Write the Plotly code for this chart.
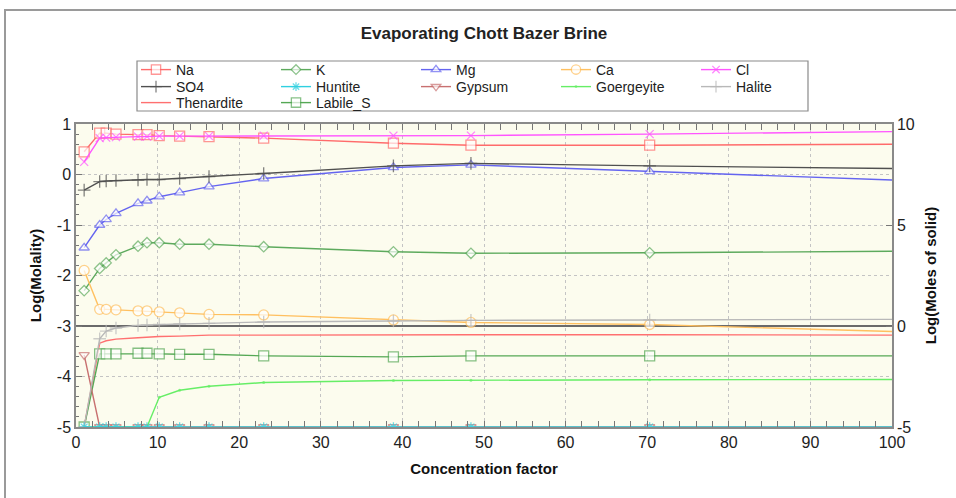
import plotly.graph_objects as go

# Concentration factor (x) and which points carry a marker
conc = [1, 2.9, 3.7, 4.9, 7.6, 8.7, 10.2, 12.7, 16.3, 23, 38.9, 48.4, 70.3, 100]
marked = [1, 1, 1, 1, 1, 1, 1, 1, 1, 1, 1, 1, 1, 0]

# Tick labels (plain hyphen minus as in the original)
left_ticks = [-5, -4, -3, -2, -1, 0, 1]
left_labels = ['-5', '-4', '-3', '-2', '-1', '0', '1']
right_ticks = [-5, 0, 5, 10]
right_labels = ['-5', '0', '5', '10']

# Log(Molality) - left axis
na = [0.45, 0.82, 0.82, 0.80, 0.79, 0.79, 0.77, 0.76, 0.75, 0.72, 0.62, 0.58, 0.58, 0.60]
cl = [0.25, 0.72, 0.73, 0.74, 0.75, 0.75, 0.76, 0.76, 0.76, 0.77, 0.77, 0.77, 0.80, 0.85]
so4 = [-0.31, -0.14, -0.13, -0.12, -0.11, -0.10, -0.10, -0.08, -0.04, 0.02, 0.17, 0.22, 0.17, 0.12]
mg = [-1.45, -1.00, -0.89, -0.77, -0.57, -0.52, -0.44, -0.36, -0.24, -0.08, 0.14, 0.19, 0.06, -0.11]
k = [-2.30, -1.86, -1.75, -1.59, -1.42, -1.35, -1.35, -1.38, -1.38, -1.43, -1.53, -1.56, -1.55, -1.52]
ca = [-1.90, -2.67, -2.67, -2.68, -2.70, -2.70, -2.72, -2.74, -2.77, -2.78, -2.88, -2.93, -2.97, -3.11]

# Log(Moles of solid) - right axis
huntite = [-5, -5, -5, -5, -5, -5, -5, -5, -5, -5, -5, -5, -5, -5]
gypsum = [-1.43, -5, -5, -5, -5, -5, -5, -5, -5, -5, -5, -5, -5, -5]
goergeyite = [-5, -5, -5, -5, -5, -5, -3.53, -3.18, -2.98, -2.80, -2.70, -2.68, -2.66, -2.65]
halite = [-5, -0.63, -0.25, -0.10, 0.03, 0.05, 0.08, 0.10, 0.13, 0.20, 0.25, 0.28, 0.30, 0.33]
thenardite = [-5, -0.85, -0.73, -0.65, -0.58, -0.55, -0.52, -0.50, -0.45, -0.45, -0.43, -0.43, -0.43, -0.45]
labile_s = [-5, -1.38, -1.38, -1.38, -1.35, -1.35, -1.38, -1.40, -1.40, -1.48, -1.53, -1.48, -1.48, -1.48]

fig = go.Figure()


def add(name, y, color, symbol, size, axis, legend, rank, width=1.4,
        fill='white', mlw=1.3, mode='lines+markers', marks=True):
    sizes = [size if (m and marks) else 0 for m in marked]
    fig.add_trace(go.Scatter(
        x=conc, y=y, name=name, mode=mode, yaxis=axis, legend=legend,
        legendrank=rank,
        line=dict(color=color, width=width),
        marker=dict(symbol=symbol, size=sizes, color=fill,
                    line=dict(color=color, width=mlw)),
    ))


# left axis species
add('Na', na, '#FF6B6B', 'square', 10, 'y', 'legend', 1)
add('K', k, '#5DAA5D', 'diamond', 8, 'y', 'legend', 2)
add('Mg', mg, '#6464F0', 'triangle-up', 9, 'y', 'legend', 3)
add('Ca', ca, '#FFC060', 'circle', 10, 'y', 'legend', 4)
add('Cl', cl, '#FF55FF', 'x-thin', 8, 'y', 'legend', 5)
add('SO4', so4, '#505050', 'cross-thin', 9, 'y', 'legend2', 1)

# right axis solids
add('Thenardite', thenardite, '#FF7070', 'circle', 0, 'y2', 'legend3', 1,
    mode='lines', marks=False)
add('Labile_S', labile_s, '#55A855', 'square', 10, 'y2', 'legend3', 2)
add('Gypsum', gypsum, '#C87070', 'triangle-down', 9, 'y2', 'legend2', 3)
add('Goergeyite', goergeyite, '#66EE66', 'circle', 3, 'y2', 'legend2', 4,
    fill='#66EE66', mlw=0)
add('Halite', halite, '#B8B8B8', 'cross-thin', 9, 'y2', 'legend2', 5)
add('Huntite', huntite, '#30D0E0', 'asterisk', 8, 'y2', 'legend2', 2)

# geometry helpers (paper coords)
L, R, T, B = 76, 892, 124, 427
W, H = 956, 498


def px(xp):
    return (xp - L) / (R - L)


def py(yp):
    return (B - yp) / (B - T)


legend_common = dict(orientation='h', xanchor='left', yanchor='middle',
                     bgcolor='rgba(0,0,0,0)', borderwidth=0,
                     font=dict(size=14, color='#222'),
                     entrywidth=95, entrywidthmode='pixels',
                     itemclick=False, itemdoubleclick=False)

fig.update_layout(
    width=W, height=H,
    margin=dict(l=L, r=W - R, t=T, b=H - B),
    paper_bgcolor='white',
    plot_bgcolor='#FCFCEE',
    font=dict(family='Liberation Sans, Arial, sans-serif', color='#222'),
    title=dict(text='<b>Evaporating Chott Bazer Brine</b>', x=px(484),
               xanchor='center', xref='paper', y=1 - 33 / H, yanchor='middle',
               font=dict(size=17, color='#222')),
    legend=dict(x=px(136), y=py(70), **legend_common),
    legend2=dict(x=px(136), y=py(87), **legend_common),
    legend3=dict(x=px(136), y=py(103), **legend_common),
    xaxis=dict(
        range=[0, 100], dtick=10, ticks='inside', ticklen=6, tickcolor='#777',
        minor=dict(dtick=2, ticks='inside', ticklen=3, tickcolor='#777',
                   showgrid=False),
        showline=True, linecolor='#8A8A8A', linewidth=1.5, mirror='allticks',
        showgrid=True, gridcolor='#C4C4C4', griddash='dot', gridwidth=1,
        zeroline=False, tickfont=dict(size=16, color='#222'),
        title=dict(text='<b>Concentration factor</b>',
                   font=dict(size=15, color='#111'), standoff=14),
    ),
    yaxis=dict(
        range=[-5, 1], tickmode='array', tickvals=left_ticks,
        ticktext=left_labels, ticks='inside', ticklen=6, tickcolor='#777',
        minor=dict(dtick=0.2, ticks='inside', ticklen=3, tickcolor='#777',
                   showgrid=False),
        showline=True, linecolor='#8A8A8A', linewidth=1.5, mirror=True,
        showgrid=True, gridcolor='#C4C4C4', griddash='dot', gridwidth=1,
        zeroline=False, tickfont=dict(size=16, color='#222'),
        title=dict(text='<b>Log(Molality)</b>',
                   font=dict(size=15, color='#111'), standoff=12),
    ),
    yaxis2=dict(
        range=[-5, 10], tickmode='array', tickvals=right_ticks,
        ticktext=right_labels, overlaying='y', side='right',
        ticks='inside', ticklen=6, tickcolor='#777',
        showline=True, linecolor='#8A8A8A', linewidth=1.5,
        showgrid=False, zeroline=True, zerolinecolor='#6A6A6A',
        zerolinewidth=1.5, tickfont=dict(size=16, color='#222'),
        title=dict(text='<b>Log(Moles of solid)</b>',
                   font=dict(size=15, color='#111'), standoff=12),
    ),
    shapes=[
        # outer frame
        dict(type='rect', xref='paper', yref='paper', layer='below',
             x0=px(5), x1=px(960), y0=py(502), y1=py(10),
             line=dict(color='#9A9A9A', width=2), fillcolor='rgba(0,0,0,0)'),
        # legend box
        dict(type='rect', xref='paper', yref='paper', layer='below',
             x0=px(137), x1=px(808), y0=py(111), y1=py(61),
             line=dict(color='#8A8A8A', width=1.2), fillcolor='white'),
    ],
)

fig.write_html('out.html')
